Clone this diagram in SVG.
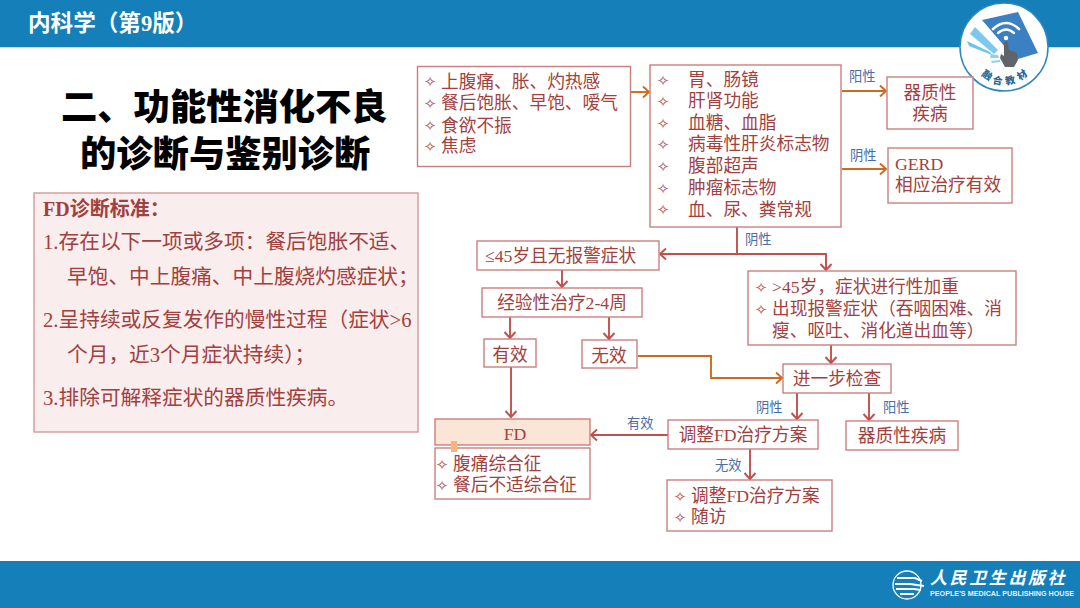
<svg xmlns="http://www.w3.org/2000/svg" width="1080" height="608" viewBox="0 0 1080 608">
<style>
text{font-family:"Liberation Serif","Noto Sans CJK SC",sans-serif}
.t{font-size:17.7px;fill:#a23f3f}
.m{text-anchor:middle}
.d{font-family:"DejaVu Sans",sans-serif;font-size:15px;fill:#b05a5a;text-anchor:middle}
.b{fill:#fff;stroke:#c97f7f;stroke-width:1.4}
.l{font-size:13.3px;fill:#4a6da7;font-family:"Noto Sans CJK SC",sans-serif}
.s{font-size:20.7px;fill:#a23f3f}
.r{fill:none;stroke:#c0504d;stroke-width:1.9}
.o{fill:none;stroke:#cc6a1f;stroke-width:1.9}
</style>
<defs>
<marker id="ar" markerUnits="userSpaceOnUse" markerWidth="12" markerHeight="14" refX="9" refY="7" orient="auto"><path d="M3 1.5L9 7L3 12.5" fill="none" stroke="#c0504d" stroke-width="1.9"/></marker>
<marker id="ao" markerUnits="userSpaceOnUse" markerWidth="12" markerHeight="14" refX="9" refY="7" orient="auto"><path d="M3 1.5L9 7L3 12.5" fill="none" stroke="#cc6a1f" stroke-width="1.9"/></marker>
</defs>
<rect width="1080" height="608" fill="#fff"/>
<g id="header">
<rect width="1080" height="47" fill="#147fb9"/>
<rect y="47" width="1080" height="1" fill="#bfe0f2"/>
<text x="28" y="31" font-size="22.6" font-weight="700" fill="#fff">内科学&#xFF08;第9版&#xFF09;</text>
</g>
<g id="footer">
<rect y="561" width="1080" height="47" fill="#147fb9"/>
<g fill="none" stroke="#fff">
<circle cx="907" cy="585" r="14" stroke-width="1.3"/>
<path d="M897 578H915L922 581M895 584H910L924 586M896 589H914L921 590M900 594H914" stroke-width="2"/>
</g>
<text x="930" y="584" font-size="17" font-weight="700" font-style="italic" fill="#fff" letter-spacing="2.6" style="font-family:'Noto Sans CJK SC',sans-serif">人民卫生出版社</text>
<text x="930" y="596" font-size="7.2" font-weight="700" fill="#e4f1f8" style="font-family:'Liberation Sans',sans-serif">PEOPLE'S MEDICAL PUBLISHING HOUSE</text>
</g>
<g id="logo">
<circle cx="1004" cy="47" r="44" fill="#fff" stroke="#2f86bd" stroke-width="1.5"/>
<path d="M967 41L990 52L992 55L969 46Z" fill="#6cc4ee"/>
<path d="M975 27L998 50L994 54L970 34Z" fill="#7cc8ef"/>
<path d="M982 20L1018 12L1038 53L1018 59L1006 48Z" fill="#3b80c2"/>
<path d="M991 54L998 55L999 58L990 58ZM991 61L1000 60L1000 62L992 63Z" fill="#8fd0f0"/>
<g fill="none" stroke="#fff" stroke-linecap="round"><path d="M993 29Q1006 17 1019 29" stroke-width="2.6"/><path d="M998 33Q1006 26 1014 33" stroke-width="2.4"/></g>
<circle cx="1006" cy="38" r="2.2" fill="#fff"/>
<path d="M1004 43Q1006 39 1008 43L1009 50L1017 53L1018 60L1014 67H1005L1000 58L1001 54L1004 56Z" fill="#606468"/>
<g font-size="10" font-weight="900" fill="#2a6a96" style="font-family:'Noto Sans CJK SC',sans-serif" text-anchor="middle">
<text transform="translate(985 78) rotate(35)">融</text>
<text transform="translate(997 84) rotate(10)">合</text>
<text transform="translate(1011 84) rotate(-12)">教</text>
<text transform="translate(1024 78) rotate(-35)">材</text>
</g>
</g>
<g id="title" font-size="36.3" font-weight="900" fill="#000">
<text x="61" y="120" style="font-family:'Noto Sans CJK SC',sans-serif">二、功能性消化不良</text>
<text x="80" y="167" style="font-family:'Noto Sans CJK SC',sans-serif">的诊断与鉴别诊断</text>
</g>
<g id="criteria">
<rect x="34" y="193" width="384" height="239" fill="#f9eded" stroke="#d29a9a" stroke-width="1.4"/>
<text x="43" y="216" font-size="20" fill="#a23f3f" font-weight="700">FD诊断标准&#xFF1A;</text>
<text x="43" y="249" class="s">1.存在以下一项或多项&#xFF1A;餐后饱胀不适、</text>
<text x="67" y="284" class="s">早饱、中上腹痛、中上腹烧灼感症状&#xFF1B;</text>
<text x="43" y="327" class="s">2.呈持续或反复发作的慢性过程&#xFF08;症状&gt;6</text>
<text x="67" y="362" class="s">个月&#xFF0C;近3个月症状持续&#xFF09;&#xFF1B;</text>
<text x="43" y="405" class="s">3.排除可解释症状的器质性疾病。</text>
</g>
<g id="connectors">
<path class="o" d="M631 92H649" marker-end="url(#ao)"/>
<path class="o" d="M842 91H886" marker-end="url(#ao)"/>
<path class="o" d="M842 169H886" marker-end="url(#ao)"/>
<path class="r" d="M737 227V254"/>
<path class="r" d="M737 254H660" marker-end="url(#ar)"/>
<path class="r" d="M737 254H826V270" marker-end="url(#ar)"/>
<path class="r" d="M562 270V287" marker-end="url(#ar)"/>
<path class="r" d="M510 317V338" marker-end="url(#ar)"/>
<path class="r" d="M609 317V339" marker-end="url(#ar)"/>
<path class="r" d="M511 367V417" marker-end="url(#ar)"/>
<path class="o" d="M638 356H711V378H782" marker-end="url(#ao)"/>
<path class="r" d="M831 345V363" marker-end="url(#ar)"/>
<path class="r" d="M797 393V419" marker-end="url(#ar)"/>
<path class="r" d="M869 393V420" marker-end="url(#ar)"/>
<path class="r" d="M668 435H591" marker-end="url(#ar)"/>
<path class="r" d="M750 449V479" marker-end="url(#ar)"/>
<text class="l" x="849" y="81">阳性</text>
<text class="l" x="850" y="160">阴性</text>
<text class="l" x="745" y="244">阴性</text>
<text class="l" x="756" y="412">阴性</text>
<text class="l" x="883" y="412">阳性</text>
<text class="l" x="715" y="470">无效</text>
<text class="l" x="627" y="428">有效</text>
</g>
<g id="n-symptoms">
<rect class="b" x="417.5" y="66.5" width="213" height="100"/>
<text class="d" x="430" y="87">✧</text><text class="d" x="430" y="109">✧</text><text class="d" x="430" y="131">✧</text><text class="d" x="430" y="152">✧</text>
<text class="t" x="441" y="88">上腹痛、胀、灼热感</text>
<text class="t" x="441" y="109">餐后饱胀、早饱、嗳气</text>
<text class="t" x="441" y="132">食欲不振</text>
<text class="t" x="441" y="152">焦虑</text>
</g>
<g id="n-exams">
<rect class="b" x="650" y="65" width="191" height="162"/>
<text class="d" x="663" y="86">✧</text><text class="d" x="663" y="107">✧</text><text class="d" x="663" y="129">✧</text><text class="d" x="663" y="150">✧</text><text class="d" x="663" y="172">✧</text><text class="d" x="663" y="194">✧</text><text class="d" x="663" y="215">✧</text>
<text class="t" x="688" y="86">胃、肠镜</text>
<text class="t" x="688" y="107">肝肾功能</text>
<text class="t" x="688" y="129">血糖、血脂</text>
<text class="t" x="688" y="150">病毒性肝炎标志物</text>
<text class="t" x="688" y="172">腹部超声</text>
<text class="t" x="688" y="194">肿瘤标志物</text>
<text class="t" x="688" y="216">血、尿、粪常规</text>
</g>
<g id="n-organic1">
<rect class="b" x="887" y="77" width="86" height="52"/>
<text class="t m" x="930" y="99">器质性</text>
<text class="t m" x="930" y="120">疾病</text>
</g>
<g id="n-gerd">
<rect class="b" x="888" y="148" width="124" height="55"/>
<text class="t" x="895" y="170">GERD</text>
<text class="t" x="895" y="191">相应治疗有效</text>
</g>
<g id="n-young">
<rect class="b" x="477" y="241" width="182" height="29"/>
<text class="t" x="485" y="262">≤45岁且无报警症状</text>
</g>
<g id="n-empiric">
<rect class="b" x="482" y="288" width="160" height="29"/>
<text class="t m" x="562" y="309">经验性治疗2-4周</text>
</g>
<g id="n-eff">
<rect class="b" x="484" y="339" width="52" height="28"/>
<text class="t m" x="510" y="361">有效</text>
</g>
<g id="n-ineff">
<rect class="b" x="582" y="340" width="55" height="28"/>
<text class="t m" x="609" y="362">无效</text>
</g>
<g id="n-fd">
<rect x="435" y="419" width="155" height="26" fill="#fbe5d6" stroke="#c97f7f" stroke-width="1.4"/>
<text class="t m" x="515" y="440">FD</text>
</g>
<g id="n-fdtypes">
<rect class="b" x="435" y="448" width="155" height="51"/>
<rect x="451" y="441" width="6" height="11" fill="#f5b57f"/>
<text class="d" x="442" y="470">✧</text><text class="d" x="442" y="491">✧</text>
<text class="t" x="453" y="470">腹痛综合征</text>
<text class="t" x="453" y="491">餐后不适综合征</text>
</g>
<g id="n-adjust">
<rect class="b" x="668" y="420" width="150" height="29"/>
<text class="t m" x="743" y="441">调整FD治疗方案</text>
</g>
<g id="n-old">
<rect class="b" x="748" y="271" width="268" height="74"/>
<text class="d" x="761" y="293">✧</text><text class="d" x="761" y="315">✧</text>
<text class="t" x="772" y="293">&gt;45岁&#xFF0C;症状进行性加重</text>
<text class="t" x="772" y="315">出现报警症状&#xFF08;吞咽困难、消</text>
<text class="t" x="772" y="337">瘦、呕吐、消化道出血等&#xFF09;</text>
</g>
<g id="n-further">
<rect class="b" x="783" y="364" width="108" height="29"/>
<text class="t m" x="837" y="385">进一步检查</text>
</g>
<g id="n-organic2">
<rect class="b" x="846" y="421" width="112" height="29"/>
<text class="t m" x="902" y="442">器质性疾病</text>
</g>
<g id="n-followup">
<rect class="b" x="667" y="480" width="165" height="51"/>
<text class="d" x="680" y="502">✧</text><text class="d" x="680" y="523">✧</text>
<text class="t" x="691" y="502">调整FD治疗方案</text>
<text class="t" x="691" y="523">随访</text>
</g>
</svg>
